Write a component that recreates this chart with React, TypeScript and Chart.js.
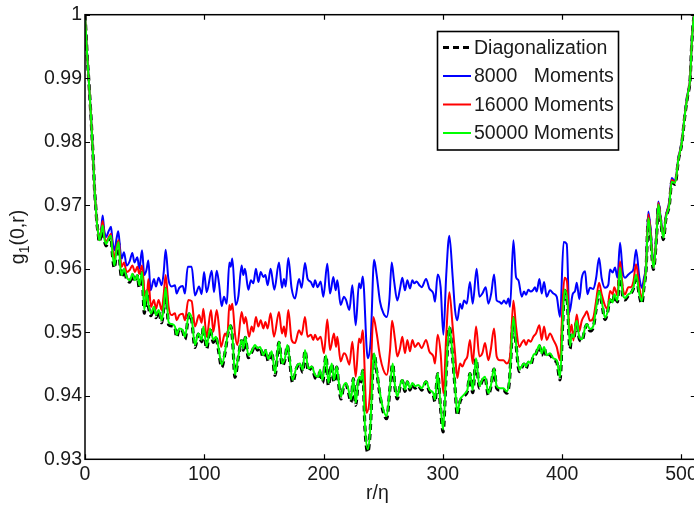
import React, { useEffect, useRef } from "react";
import { Chart, registerables } from "chart.js";

Chart.register(...registerables);

const FONT = '"Liberation Sans", Arial, Helvetica, sans-serif';
const FONT_SIZE = 19.5;

const xTicks = [0, 100, 200, 300, 400, 500];
const yTicks = [0.93, 0.94, 0.95, 0.96, 0.97, 0.98, 0.99, 1];
const xLimits = [0, 512];
const yLimits = [0.93, 1];
const xTitle = "r/η";
const legendLabels = ["Diagonalization", "8000   Moments", "16000 Moments", "50000 Moments"];
const seriesColors = ["#000000", "#0000ff", "#ff0000", "#00ff00"];

// [r/eta, g1(0,r)] pairs
const moments8000: [number, number][] = [[0,1],[1,0.9965],[2,0.993],[3,0.9902],[4,0.9872],[5,0.984],[6,0.9805],[7,0.9768],[8,0.9725],[9,0.9698],[10,0.9672],[11,0.9657],[12,0.9648],[13.5,0.966],[14.8,0.9684],[16,0.9662],[17.6,0.965],[20,0.966],[21.8,0.9666],[23,0.9645],[24.6,0.9629],[26.5,0.9648],[27.9,0.9659],[29.5,0.963],[30.7,0.9616],[32.7,0.9626],[34.9,0.9605],[37.5,0.9612],[39.7,0.9625],[41.4,0.961],[43.9,0.9618],[45.5,0.96],[47.8,0.9629],[49.7,0.959],[51.5,0.9598],[53.1,0.9613],[55,0.9566],[57.8,0.9584],[59.5,0.9572],[61.7,0.9586],[64.3,0.9574],[66,0.9595],[67.6,0.963],[69.9,0.9584],[72.6,0.9572],[75.4,0.9574],[76.8,0.9561],[79,0.957],[81.9,0.9573],[83.8,0.9561],[86.1,0.9603],[89.4,0.9603],[92.2,0.9558],[95.6,0.9572],[97.8,0.956],[99.8,0.9595],[102,0.9563],[106.2,0.9597],[108.1,0.9563],[110.4,0.9597],[112.3,0.9577],[114.6,0.9541],[116.5,0.9556],[118.8,0.9545],[121,0.961],[122.1,0.9603],[123.5,0.9616],[126.3,0.9543],[128.5,0.9556],[131.3,0.9605],[132.7,0.959],[134.1,0.96],[136.9,0.9567],[139.1,0.9582],[141.1,0.9577],[143.3,0.96],[145.3,0.9579],[147.3,0.9595],[149.5,0.9587],[151.2,0.959],[153.1,0.9574],[155.6,0.96],[158.7,0.9567],[162.6,0.961],[165.1,0.957],[166.8,0.9584],[168.2,0.9572],[170.4,0.9617],[173.2,0.9569],[176,0.9553],[179.4,0.9584],[181.6,0.957],[184.4,0.9609],[186.6,0.9584],[189.4,0.9579],[191.4,0.9571],[192.8,0.9582],[195,0.9571],[197.5,0.958],[199.8,0.9556],[203.1,0.9608],[205.4,0.9561],[208.2,0.9587],[210.1,0.9566],[211.5,0.9582],[214.3,0.9543],[217.1,0.9556],[218.8,0.9551],[221.6,0.9535],[224.1,0.9574],[226.9,0.9511],[229.7,0.9577],[231.1,0.9569],[232.8,0.9588],[237,0.9459],[239.5,0.9488],[242.3,0.9614],[244.5,0.959],[247.3,0.9548],[250.1,0.953],[252.9,0.9524],[255.1,0.955],[257.1,0.961],[259,0.9582],[261.8,0.955],[264.1,0.9569],[266,0.9586],[268.2,0.9566],[270.2,0.9582],[272.4,0.9569],[274.4,0.9582],[276.1,0.9577],[278,0.958],[280.3,0.9574],[282.2,0.9571],[285.9,0.9584],[288.6,0.9569],[292,0.9561],[293.4,0.9548],[295.6,0.9591],[298.1,0.9571],[300.4,0.9496],[302.8,0.959],[305.4,0.9652],[308.2,0.9587],[310.2,0.9535],[312.1,0.9519],[314.4,0.9545],[316,0.9537],[317.7,0.955],[320,0.9545],[322.7,0.9579],[325,0.9545],[328.3,0.96],[330.6,0.9556],[333.1,0.9561],[335.9,0.9571],[338.1,0.9545],[340.5,0.9561],[342.9,0.9591],[345.1,0.955],[347.3,0.9548],[349.3,0.9545],[351.2,0.955],[353.1,0.9545],[354.9,0.9553],[356.3,0.954],[359.1,0.9645],[361.3,0.9587],[363.3,0.9582],[366.1,0.9556],[368,0.9564],[369.7,0.9559],[371.6,0.9567],[373.6,0.9564],[375.8,0.9567],[377.2,0.9571],[378.6,0.9564],[380.9,0.9584],[382.8,0.9561],[384.8,0.9579],[387,0.9556],[389.8,0.9566],[392.6,0.9561],[395.4,0.9556],[398.2,0.9524],[401.2,0.9642],[403.8,0.9639],[406,0.9531],[408.8,0.956],[410.8,0.9565],[412.2,0.9578],[414.4,0.9552],[416.4,0.9585],[419.2,0.9596],[421.1,0.956],[423.3,0.957],[426.1,0.9568],[428.4,0.9585],[430.9,0.9617],[433.1,0.9585],[435.9,0.957],[438.7,0.9575],[440.1,0.9599],[442.3,0.9594],[444.3,0.9602],[446.3,0.9586],[448.5,0.9641],[450.7,0.9596],[452.7,0.9586],[455.5,0.9591],[457.4,0.9594],[459.7,0.9599],[461.9,0.963],[464.7,0.9586],[466.7,0.957],[468.6,0.9586],[470.3,0.9607],[472.2,0.969],[474.2,0.9659],[476.4,0.9607],[479.2,0.9659],[480.6,0.9706],[482.6,0.968],[484.8,0.9654],[487,0.9685],[489.8,0.9706],[491.8,0.9743],[494.6,0.9737],[497.4,0.9774],[500.2,0.98],[503,0.9847],[505.2,0.9876],[507.2,0.9899],[508.6,0.9957],[510,0.999],[511,1]];

const moments16000: [number, number][] = [[0,1],[1,0.9965],[2,0.993],[3,0.9902],[4,0.9872],[5,0.984],[6,0.9805],[7,0.9768],[8,0.9725],[9,0.9698],[10,0.9672],[11,0.9657],[12,0.9646],[13.5,0.9658],[14.8,0.9675],[16,0.9655],[17.6,0.9642],[20,0.965],[21.8,0.9655],[23,0.9632],[24.6,0.9616],[26.5,0.9635],[28.2,0.9645],[29.5,0.9618],[30.7,0.9603],[32.7,0.961],[34.9,0.9595],[37.5,0.9598],[39.7,0.9605],[41.9,0.9595],[43.9,0.9603],[45.5,0.9592],[47.8,0.9605],[49.7,0.9566],[51.7,0.955],[53.1,0.9584],[55.3,0.954],[57.8,0.9551],[59.5,0.9537],[61.7,0.9551],[64.3,0.9535],[66,0.956],[67.6,0.959],[70.1,0.954],[72.6,0.9527],[75.4,0.953],[76.8,0.9519],[79,0.9527],[81.9,0.9529],[83.8,0.9519],[86.6,0.9551],[89.4,0.9549],[92.2,0.9509],[95.6,0.9527],[97.8,0.9515],[99.2,0.9537],[102,0.9493],[105.6,0.9535],[107.6,0.9501],[110.4,0.9535],[112.3,0.9509],[114,0.9477],[117.4,0.9498],[119.3,0.9493],[121,0.9543],[122.1,0.9535],[123.5,0.9545],[125.7,0.9498],[127.7,0.948],[131.3,0.9532],[133.3,0.9514],[134.7,0.9524],[137.5,0.9493],[139.7,0.9509],[141.1,0.9501],[143.3,0.9524],[145.3,0.9509],[147.3,0.9519],[149.5,0.9506],[151.2,0.9516],[153.1,0.9506],[155.6,0.953],[158.4,0.9493],[162.6,0.9532],[165.1,0.9498],[166.8,0.9509],[168.2,0.9493],[170.4,0.9535],[173.2,0.9488],[176,0.9483],[179.4,0.9503],[181.6,0.9496],[184.4,0.9524],[186.6,0.9493],[189.4,0.9496],[191.4,0.9488],[192.8,0.9496],[195,0.9488],[197.5,0.9493],[200.3,0.9467],[203.1,0.952],[205.4,0.9472],[208.7,0.9498],[210.4,0.9477],[211.5,0.9493],[214.3,0.9454],[217.1,0.9467],[218.8,0.9464],[221.6,0.9449],[224.1,0.9485],[226.9,0.943],[229.7,0.949],[231.1,0.9483],[232.8,0.9503],[236.1,0.9373],[238.9,0.9404],[241.7,0.9524],[244.5,0.9498],[247.3,0.9462],[250.1,0.9441],[252.9,0.9433],[255.7,0.9472],[257.4,0.9518],[259.9,0.9488],[261.8,0.9462],[264.1,0.9475],[266,0.9493],[268.2,0.9467],[270.2,0.9488],[272.4,0.947],[274.4,0.9488],[276.6,0.9477],[279.4,0.9483],[282.2,0.9475],[285.9,0.9488],[288.6,0.947],[292,0.9462],[293.4,0.9451],[295.6,0.9496],[298.1,0.9467],[300.4,0.9404],[302.8,0.9495],[305.4,0.9563],[308.2,0.9509],[310.2,0.9467],[312.1,0.9428],[314.4,0.9451],[316.3,0.9446],[318.6,0.9456],[320.5,0.9462],[322.7,0.9488],[325,0.9451],[327.8,0.9509],[330.6,0.9462],[333.1,0.9467],[335.3,0.9483],[338.1,0.9456],[340.1,0.9472],[342.9,0.9506],[345.1,0.9462],[347.9,0.9456],[350.7,0.9456],[353.5,0.9451],[356.3,0.9462],[359.1,0.955],[361.3,0.9509],[364.1,0.9477],[366,0.9483],[368,0.9488],[369.7,0.948],[371.6,0.9488],[373.6,0.9485],[375.8,0.9493],[378,0.9498],[380.9,0.9511],[382.8,0.9488],[384.8,0.9509],[387,0.9488],[389.8,0.9498],[392.6,0.9488],[395.4,0.9477],[398.2,0.9456],[400.4,0.955],[402,0.9586],[404,0.958],[406.3,0.95],[408,0.9512],[409.4,0.9487],[412.2,0.9528],[414.4,0.9502],[416.4,0.9518],[419.2,0.9528],[420.6,0.9533],[423.3,0.9518],[426.1,0.9523],[428.4,0.9549],[430.9,0.9578],[433.1,0.956],[435.9,0.9542],[437.9,0.9537],[440.1,0.9565],[442.3,0.956],[443.7,0.9571],[446.3,0.9558],[448.5,0.9612],[450.7,0.9571],[452.7,0.956],[455.5,0.9571],[457.4,0.9571],[459.7,0.958],[461.9,0.9607],[464.7,0.9571],[466.7,0.9552],[468.6,0.9578],[470.3,0.9603],[472.2,0.9686],[474.2,0.9655],[476.4,0.9604],[479.2,0.9657],[480.6,0.9704],[482.6,0.9678],[484.8,0.9651],[487,0.9683],[489.8,0.9704],[491.8,0.974],[494.6,0.9736],[497.4,0.9773],[500.2,0.9799],[503,0.9846],[505.2,0.9875],[507.2,0.9899],[508.6,0.9956],[510,0.999],[511,1]];

const moments50000: [number, number][] = [[0,1],[1,0.9965],[2,0.993],[3,0.9902],[4,0.9872],[5,0.984],[6,0.9805],[7,0.9768],[8,0.9725],[9,0.9698],[10,0.9672],[11,0.9657],[12,0.9645],[13.5,0.9656],[14.8,0.9668],[16,0.965],[17.6,0.9639],[20,0.9648],[21.8,0.9652],[23,0.9625],[24.6,0.9605],[26.5,0.963],[28.2,0.9642],[29.5,0.9605],[30.7,0.959],[32.7,0.96],[34.9,0.9587],[37.7,0.9582],[39.7,0.9592],[41.9,0.9582],[43.9,0.959],[45.5,0.9574],[47.8,0.9595],[49.7,0.9535],[51.7,0.9566],[53.1,0.9545],[55.3,0.953],[57.8,0.954],[59.5,0.9527],[61.7,0.9535],[64.3,0.9519],[66,0.954],[67.6,0.957],[70.1,0.9516],[72.6,0.9513],[75.4,0.9509],[76.8,0.9496],[79,0.9506],[81.9,0.9503],[83.8,0.9493],[87.2,0.953],[89.4,0.9522],[92.2,0.948],[95,0.9498],[97.8,0.9488],[99.2,0.9509],[102,0.9478],[104.8,0.9506],[107.6,0.9488],[109.8,0.9493],[111.8,0.9477],[114.6,0.9449],[117.4,0.947],[120.2,0.9503],[122.1,0.9511],[123.8,0.9488],[125.7,0.9433],[128.5,0.9462],[131.3,0.9488],[132.7,0.9475],[134.4,0.9493],[136.9,0.9464],[139.7,0.947],[142.5,0.948],[144.5,0.9475],[146.7,0.9477],[149.5,0.9464],[151.4,0.9472],[153.7,0.9458],[156.5,0.947],[159.3,0.9436],[162.6,0.9485],[165.4,0.9451],[167.6,0.9459],[169.6,0.948],[171.3,0.9462],[174,0.9425],[177.4,0.9446],[180.2,0.9451],[182.5,0.9441],[184.4,0.9472],[187.2,0.9443],[190,0.9446],[192.8,0.9433],[195.6,0.943],[197,0.9441],[199.2,0.9425],[202,0.9464],[204,0.942],[206.8,0.9451],[208.7,0.9425],[211,0.9446],[212.5,0.9425],[214.6,0.9399],[216.6,0.9415],[218.8,0.942],[220.8,0.941],[223,0.9394],[224.9,0.9428],[226.9,0.9389],[229.1,0.9425],[230.5,0.943],[231.5,0.9425],[232.8,0.9441],[234.7,0.9352],[237,0.9316],[238.9,0.9342],[242.3,0.9467],[244.5,0.9441],[247.3,0.9404],[250.1,0.9378],[252.9,0.9368],[255.7,0.9415],[257.9,0.9451],[259.9,0.9415],[261.8,0.9399],[264.1,0.9417],[266,0.9425],[268.2,0.941],[270.2,0.9423],[272.4,0.9412],[274.4,0.942],[276.6,0.9415],[279.4,0.9417],[282.2,0.9412],[285.9,0.9423],[288.6,0.941],[292,0.9404],[293.4,0.9394],[295.6,0.9436],[298.1,0.9383],[300.2,0.9347],[302.8,0.944],[305.4,0.9509],[308.2,0.9462],[310.2,0.9415],[312.1,0.9373],[314.4,0.9394],[316.3,0.9399],[318.6,0.9404],[320.5,0.9409],[322.7,0.9436],[325,0.9409],[327.8,0.9459],[330.6,0.9415],[332.8,0.9425],[335.3,0.943],[338.1,0.9404],[340.1,0.9415],[342.9,0.9443],[345.1,0.9415],[347.9,0.9412],[350.7,0.9412],[353.5,0.9407],[355.7,0.9423],[356.8,0.9455],[359.1,0.9524],[361.3,0.9483],[364.1,0.9441],[366,0.9446],[368,0.9451],[369.7,0.9446],[371.6,0.9454],[373.6,0.9451],[375.8,0.9464],[378,0.9467],[380.9,0.948],[382.8,0.9467],[384.8,0.9477],[387,0.9464],[389.8,0.9467],[392.6,0.9459],[395.4,0.9456],[398.2,0.9429],[400.4,0.9515],[402,0.9567],[404.3,0.955],[406.6,0.9478],[408,0.9497],[409.4,0.9492],[412.2,0.9518],[414.4,0.9492],[416.4,0.9489],[419.2,0.9507],[420.6,0.9513],[423.3,0.9505],[426.1,0.951],[428.4,0.9537],[430.9,0.9565],[433.1,0.9549],[435.9,0.9523],[437.9,0.9531],[440.1,0.9552],[442.3,0.9547],[443.7,0.956],[446.3,0.955],[448.5,0.9602],[450.7,0.956],[452.7,0.9554],[455.5,0.956],[457.4,0.9562],[459.7,0.957],[461.9,0.9591],[464.7,0.956],[466.7,0.9549],[468.6,0.9573],[470.3,0.96],[472.2,0.968],[474.2,0.965],[476.4,0.9602],[479.2,0.9655],[480.6,0.9701],[482.6,0.9676],[484.8,0.9649],[487,0.9681],[489.8,0.9701],[491.8,0.9737],[494.6,0.9735],[497.4,0.9772],[500.2,0.9798],[503,0.9845],[505.2,0.9874],[507.2,0.9898],[508.6,0.9955],[510,0.999],[511,1]];

const diagonalization: [number, number][] = [[0,1],[1,0.9965],[2,0.993],[3,0.9902],[4,0.9872],[5,0.984],[6,0.9805],[7,0.9768],[8,0.9725],[9,0.9698],[10,0.9672],[11,0.9656],[12,0.9642],[13.5,0.9655],[14.8,0.9667],[16,0.9648],[17.6,0.9636],[20,0.9647],[21.8,0.9651],[23,0.9622],[24.6,0.9601],[26.5,0.9629],[28.2,0.9641],[29.5,0.9602],[30.7,0.9586],[32.7,0.9599],[34.9,0.9584],[37.7,0.9579],[39.7,0.9591],[41.9,0.9579],[43.9,0.9589],[45.5,0.957],[47.8,0.9594],[49.7,0.953],[51.7,0.9565],[53.1,0.9542],[55.3,0.9526],[57.8,0.9539],[59.5,0.9523],[61.7,0.9534],[64.3,0.9515],[66,0.9539],[67.6,0.9569],[70.1,0.9512],[72.6,0.951],[75.4,0.9507],[76.8,0.9492],[79,0.9505],[81.9,0.9501],[83.8,0.9489],[87.2,0.9529],[89.4,0.952],[92.2,0.9476],[95,0.9497],[97.8,0.9485],[99.2,0.9508],[102,0.9474],[104.8,0.9505],[107.6,0.9484],[109.8,0.9492],[111.8,0.9473],[114.6,0.9445],[117.4,0.9468],[120.2,0.9502],[122.1,0.951],[123.8,0.9485],[125.7,0.9429],[128.5,0.946],[131.3,0.9487],[132.7,0.9472],[134.4,0.9492],[136.9,0.946],[139.7,0.9468],[142.5,0.9479],[144.5,0.9472],[146.7,0.9476],[149.5,0.946],[151.4,0.9471],[153.7,0.9454],[156.5,0.9469],[159.3,0.9432],[162.6,0.9484],[165.4,0.9447],[167.6,0.9457],[169.6,0.9479],[171.3,0.9459],[174,0.9421],[177.4,0.9444],[180.2,0.945],[182.5,0.9437],[184.4,0.9471],[187.2,0.9439],[190,0.9445],[192.8,0.9429],[195.6,0.9426],[197,0.944],[199.2,0.9421],[202,0.9463],[204,0.9416],[206.8,0.945],[208.7,0.9421],[211,0.9445],[212.5,0.9421],[214.6,0.9395],[216.6,0.9413],[218.8,0.9418],[220.8,0.9406],[223,0.939],[224.9,0.9427],[226.9,0.9385],[229.1,0.9423],[230.5,0.9429],[231.5,0.9422],[232.8,0.944],[234.7,0.9348],[237,0.9311],[238.9,0.9339],[242.3,0.9466],[244.5,0.9439],[247.3,0.94],[250.1,0.9374],[252.9,0.9364],[255.7,0.9413],[257.9,0.945],[259.9,0.9412],[261.8,0.9395],[264.1,0.9415],[266,0.9424],[268.2,0.9407],[270.2,0.9422],[272.4,0.9409],[274.4,0.9419],[276.6,0.9412],[279.4,0.9416],[282.2,0.9409],[285.9,0.9422],[288.6,0.9407],[292,0.9401],[293.4,0.939],[295.6,0.9435],[298.1,0.9379],[300.2,0.9343],[302.8,0.9439],[305.4,0.9508],[308.2,0.946],[310.2,0.9412],[312.1,0.9369],[314.4,0.9391],[316.3,0.9397],[318.6,0.9401],[320.5,0.9407],[322.7,0.9435],[325,0.9405],[327.8,0.9458],[330.6,0.9412],[332.8,0.9423],[335.3,0.9429],[338.1,0.9401],[340.1,0.9413],[342.9,0.9442],[345.1,0.9412],[347.9,0.9409],[350.7,0.9409],[353.5,0.9404],[355.7,0.9421],[356.8,0.9454],[359.1,0.9523],[361.3,0.9481],[364.1,0.9438],[366,0.9444],[368,0.945],[369.7,0.9443],[371.6,0.9452],[373.6,0.9449],[375.8,0.9462],[378,0.9466],[380.9,0.9479],[382.8,0.9464],[384.8,0.9476],[387,0.9461],[389.8,0.9465],[392.6,0.9456],[395.4,0.9453],[398.2,0.9425],[400.4,0.9514],[402,0.9566],[404.3,0.9548],[406.6,0.9474],[408,0.9495],[409.4,0.9489],[412.2,0.9517],[414.4,0.9489],[416.4,0.9486],[419.2,0.9506],[420.6,0.9512],[423.3,0.9502],[426.1,0.9508],[428.4,0.9536],[430.9,0.9564],[433.1,0.9547],[435.9,0.952],[437.9,0.953],[440.1,0.9551],[442.3,0.9545],[443.7,0.9559],[446.3,0.9548],[448.5,0.9601],[450.7,0.9558],[452.7,0.9551],[455.5,0.9558],[457.4,0.9561],[459.7,0.9569],[461.9,0.959],[464.7,0.9558],[466.7,0.9545],[468.6,0.9572],[470.3,0.9599],[472.2,0.9679],[474.2,0.9649],[476.4,0.9599],[479.2,0.9654],[480.6,0.97],[482.6,0.9675],[484.8,0.9646],[487,0.968],[489.8,0.97],[491.8,0.9736],[494.6,0.9733],[497.4,0.9771],[500.2,0.9797],[503,0.9844],[505.2,0.9873],[507.2,0.9897],[508.6,0.9954],[510,0.999],[511,1]];

const seriesData = [diagonalization, moments8000, moments16000, moments50000];

const toXY = (pairs: [number, number][]) => pairs.map(([x, y]) => ({ x, y }));

const framePlugin = {
  id: "matlabFrame",
  afterDatasetsDraw(chart: any) {
    const { ctx, chartArea: a, scales } = chart;
    const xs = scales.x;
    const ys = scales.y;
    ctx.save();
    // axes box
    ctx.strokeStyle = "#000";
    ctx.lineWidth = 1.5;
    ctx.strokeRect(a.left, a.top, a.right - a.left, a.bottom - a.top);
    // inward ticks
    ctx.lineWidth = 1.2;
    const tl = 5;
    ctx.beginPath();
    xTicks.forEach((v) => {
      const px = Math.round(xs.getPixelForValue(v)) + 0.5;
      ctx.moveTo(px, a.bottom);
      ctx.lineTo(px, a.bottom - tl);
      ctx.moveTo(px, a.top);
      ctx.lineTo(px, a.top + tl);
    });
    yTicks.forEach((v) => {
      const py = Math.round(ys.getPixelForValue(v)) + 0.5;
      ctx.moveTo(a.left, py);
      ctx.lineTo(a.left + tl, py);
      ctx.moveTo(a.right, py);
      ctx.lineTo(a.right - tl, py);
    });
    ctx.stroke();

    // legend
    const bx = 437.5, by = 31.5, bw = 181, bh = 118.5;
    ctx.fillStyle = "#fff";
    ctx.fillRect(bx, by, bw, bh);
    ctx.lineWidth = 1.6;
    ctx.strokeStyle = "#000";
    ctx.strokeRect(bx, by, bw, bh);
    const rowY = [47.5, 76, 104.5, 133];
    ctx.font = `${FONT_SIZE}px ${FONT}`;
    ctx.textBaseline = "middle";
    ctx.textAlign = "left";
    legendLabels.forEach((label, i) => {
      const y = rowY[i];
      ctx.beginPath();
      ctx.strokeStyle = seriesColors[i];
      if (i === 0) {
        ctx.lineWidth = 3;
        ctx.setLineDash([6, 4]);
      } else {
        ctx.lineWidth = 2;
        ctx.setLineDash([]);
      }
      ctx.moveTo(443, y);
      ctx.lineTo(471, y);
      ctx.stroke();
      ctx.setLineDash([]);
      ctx.fillStyle = "#1a1a1a";
      ctx.fillText(label, 474, y + 1);
    });

    // x title
    ctx.textAlign = "center";
    ctx.textBaseline = "middle";
    ctx.fillStyle = "#1a1a1a";
    ctx.fillText(xTitle, (xs.getPixelForValue(xLimits[0]) + xs.getPixelForValue(xLimits[1])) / 2 - 13, 494);

    // y title: g_1(0,r)
    ctx.save();
    const cy = (a.top + a.bottom) / 2;
    ctx.translate(24, cy);
    ctx.rotate(-Math.PI / 2);
    ctx.textAlign = "left";
    ctx.textBaseline = "alphabetic";
    const big = `${FONT_SIZE}px ${FONT}`;
    const small = `${Math.round(FONT_SIZE * 0.72)}px ${FONT}`;
    ctx.font = big;
    const wg = ctx.measureText("g").width;
    const wr = ctx.measureText("(0,r)").width;
    ctx.font = small;
    const w1 = ctx.measureText("1").width;
    let x0 = -(wg + w1 + wr) / 2;
    ctx.font = big;
    ctx.fillText("g", x0, 0);
    x0 += wg;
    ctx.font = small;
    ctx.fillText("1", x0, 5);
    x0 += w1;
    ctx.font = big;
    ctx.fillText("(0,r)", x0, 0);
    ctx.restore();

    ctx.restore();
  },
};

export default function App() {
  const canvasRef = useRef<HTMLCanvasElement | null>(null);

  useEffect(() => {
    const canvas = canvasRef.current;
    if (!canvas) return;
    const datasets = seriesData.map((pairs, i) => ({
      label: legendLabels[i],
      data: toXY(pairs),
      borderColor: seriesColors[i],
      backgroundColor: seriesColors[i],
      borderWidth: i === 0 ? 3.2 : 2,
      borderDash: i === 0 ? [6, 4] : [],
      pointRadius: 0,
      cubicInterpolationMode: "monotone" as const,
      fill: false,
      order: 4 - i,
    }));
    const chart = new Chart(canvas, {
      type: "line",
      data: { datasets },
      options: {
        animation: false,
        responsive: false,
        devicePixelRatio: 1,
        layout: { padding: { top: 12.3, right: 8.2, left: 0, bottom: 0 } },
        plugins: {
          legend: { display: false },
          tooltip: { enabled: false },
          title: { display: false },
        },
        scales: {
          x: {
            type: "linear",
            min: xLimits[0],
            max: xLimits[1],
            grid: { display: false, drawTicks: false },
            border: { display: false },
            afterBuildTicks: (scale: any) => {
              scale.ticks = xTicks.map((v) => ({ value: v }));
            },
            afterFit: (scale: any) => {
              scale.height = 45.7;
            },
            ticks: {
              autoSkip: false,
              maxRotation: 0,
              padding: 4,
              color: "#1a1a1a",
              font: { family: FONT, size: FONT_SIZE },
              callback: (v: any) => String(v),
            },
          },
          y: {
            type: "linear",
            min: yLimits[0],
            max: yLimits[1],
            grid: { display: false, drawTicks: false },
            border: { display: false },
            afterBuildTicks: (scale: any) => {
              scale.ticks = yTicks.map((v) => ({ value: v }));
            },
            afterFit: (scale: any) => {
              scale.width = 85;
            },
            ticks: {
              autoSkip: false,
              padding: 3,
              color: "#1a1a1a",
              font: { family: FONT, size: FONT_SIZE },
              callback: (v: any) => String(Number(Number(v).toFixed(2))),
            },
          },
        },
      },
      plugins: [framePlugin],
    });
    return () => chart.destroy();
  }, []);

  return (
    <div
      style={{
        position: "fixed",
        left: 0,
        top: 0,
        width: 694,
        height: 505,
        overflow: "hidden",
        background: "#fff",
      }}
    >
      <canvas ref={canvasRef} width={704} height={505} style={{ display: "block" }} />
    </div>
  );
}
